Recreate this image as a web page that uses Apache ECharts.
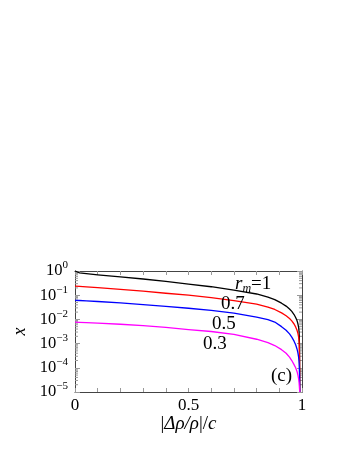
<!DOCTYPE html>
<html><head><meta charset="utf-8">
<script src="https://cdn.jsdelivr.net/npm/echarts@6/dist/echarts.min.js"></script>
<style>html,body{margin:0;padding:0;background:#fff}#c{width:349px;height:451px}</style>
</head><body><div id="c"></div>
<script>
// x positions (|Δρ/ρ|/c)
const xs = [0,0.02,0.05,0.1,0.2,0.3,0.4,0.5,0.6,0.7,
            0.8,0.85,0.88,0.91,0.93,0.945,0.955,0.965,0.972,0.978,0.982,0.985,0.987,0.988,0.989,0.9895,0.99];
// log10(x) values
const black   = [0,-0.08,-0.11,-0.16,-0.24,-0.33,-0.43,-0.54,-0.65,-0.79,
                 -0.95,-1.08,-1.18,-1.33,-1.45,-1.57,-1.67,-1.8,-1.92,-2.05,-2.18,-2.32,-2.5,-2.7,-3.2,-3.8,-5];
const red     = [-0.625,-0.635,-0.655,-0.69,-0.76,-0.83,-0.92,-1.0,-1.1,-1.22,
                 -1.37,-1.49,-1.59,-1.73,-1.85,-1.96,-2.06,-2.19,-2.31,-2.45,-2.58,-2.72,-2.9,-3.1,-3.5,-4.0,-5];
const blue    = [-1.21,-1.22,-1.235,-1.26,-1.32,-1.39,-1.46,-1.54,-1.63,-1.74,
                 -1.91,-2.01,-2.11,-2.3,-2.45,-2.6,-2.73,-2.9,-3.05,-3.22,-3.38,-3.55,-3.75,-3.95,-4.3,-4.6,-5];
const magenta = [-2.11,-2.12,-2.13,-2.15,-2.2,-2.26,-2.33,-2.42,-2.5,-2.62,
                 -2.82,-2.96,-3.08,-3.25,-3.4,-3.56,-3.7,-3.87,-4.0,-4.15,-4.3,-4.45,-4.6,-4.72,-4.85,-4.93,-5];
const xTickLabels = ['0','0.5','1'];
const decades = [-5,-4,-3,-2,-1];
const minorTicks = [];
decades.forEach(d => { for (let k = 2; k <= 9; k++) minorTicks.push(k * Math.pow(10, d)); });

const FONT = 'Liberation Serif';
const toPairs = arr => xs.map((x, i) => [x, Math.pow(10, arr[i])]);
const lineSeries = (data, color) => ({
  type: 'line', data: toPairs(data), showSymbol: false, symbol: 'none',
  lineStyle: { color: color, width: 1.3, join: 'round' }, itemStyle: { color: color }, silent: true, z: 3
});

const chart = echarts.init(document.getElementById('c'), null, { renderer: 'canvas' });
const tickStyle = { lineStyle: { color: '#999', width: 1 } };
chart.setOption({
  animation: false,
  grid: { left: 75, right: 47, top: 271, bottom: 59 },
  xAxis: [{
    type: 'value', min: 0, max: 1, interval: 0.1, position: 'bottom',
    axisLine: { show: true, onZero: false, lineStyle: { color: '#444', width: 1 } },
    axisTick: Object.assign({ inside: true, length: 4 }, tickStyle),
    splitLine: { show: false },
    axisLabel: {
      margin: 5, fontFamily: FONT, fontSize: 17, color: '#000',
      formatter: v => { const s = String(Math.round(v * 10) / 10); return xTickLabels.indexOf(s) >= 0 ? s : ''; }
    },
    name: '{n||}{i|Δρ/ρ}{n||/}{i|c}', nameLocation: 'middle', nameGap: 14,
    nameTextStyle: { fontFamily: FONT, fontSize: 19, color: '#000', verticalAlign: 'top',
      rich: { n: { fontFamily: FONT, fontSize: 19, color: '#000' }, i: { fontFamily: FONT, fontSize: 19, fontStyle: 'italic', color: '#000' } } }
  }, {
    type: 'value', min: 0, max: 1, interval: 0.1, position: 'top',
    axisLine: { show: true, onZero: false, lineStyle: { color: '#444', width: 1 } },
    axisTick: Object.assign({ inside: true, length: 4 }, tickStyle),
    axisLabel: { show: false }, splitLine: { show: false }
  }],
  yAxis: [{
    type: 'log', logBase: 10, min: 1e-5, max: 1, interval: 1, position: 'left',
    axisLine: { show: true, onZero: false, lineStyle: { color: '#444', width: 1 } },
    axisTick: Object.assign({ inside: true, length: 5 }, tickStyle),
    splitLine: { show: false },
    axisLabel: {
      margin: 7, color: '#000',
      formatter: v => { const e = Math.round(Math.log10(v)); return '{b|10}{s|' + (e === 0 ? '0' : '\u2212' + (-e)) + '}'; },
      rich: {
        b: { fontFamily: FONT, fontSize: 16.5, color: '#000', lineHeight: 16 },
        s: { fontFamily: FONT, fontSize: 11, color: '#000', lineHeight: 11, padding: [0, 0, 11, 0] }
      }
    },
    name: 'x', nameLocation: 'middle', nameGap: 34, nameRotate: 90,
    nameTextStyle: { fontFamily: FONT, fontSize: 18, fontStyle: 'italic', color: '#000' }
  }, {
    type: 'log', logBase: 10, min: 1e-5, max: 1, interval: 1, position: 'right',
    axisLine: { show: true, onZero: false, lineStyle: { color: '#444', width: 1 } },
    axisTick: Object.assign({ inside: true, length: 5 }, tickStyle),
    axisLabel: { show: false }, splitLine: { show: false }
  }],
  series: [
    {
      type: 'custom', coordinateSystem: 'cartesian2d', silent: true, z: 1,
      data: minorTicks.map(v => [0, v]),
      renderItem: (params, api) => {
        const v = api.value(1);
        const pl = api.coord([0, v]);
        const pr = api.coord([1, v]);
        return { type: 'group', children: [
          { type: 'line', shape: { x1: pl[0], y1: pl[1], x2: pl[0] + 3, y2: pl[1] }, style: { stroke: '#999', lineWidth: 1 } },
          { type: 'line', shape: { x1: pr[0], y1: pr[1], x2: pr[0] - 3, y2: pr[1] }, style: { stroke: '#999', lineWidth: 1 } }
        ] };
      }
    },
    lineSeries(black, '#000000'),
    lineSeries(red, '#ff0000'),
    lineSeries(blue, '#0000ff'),
    lineSeries(magenta, '#ff00ff')
  ],
  graphic: [
    { type: 'text', x: 235, y: 284, z: 10, style: { text: '{i|r}{m|m}{n|=1}', verticalAlign: 'middle',
      rich: { i: { fontFamily: FONT, fontSize: 19, fontStyle: 'italic', fill: '#000' },
              m: { fontFamily: FONT, fontSize: 12, fontStyle: 'italic', fill: '#000', padding: [9, 0, 0, 0] },
              n: { fontFamily: FONT, fontSize: 19, fill: '#000' } } } },
    { type: 'text', x: 221, y: 304, z: 10, style: { text: '0.7', font: '19px "Liberation Serif"', fill: '#000', verticalAlign: 'middle' } },
    { type: 'text', x: 212, y: 324, z: 10, style: { text: '0.5', font: '19px "Liberation Serif"', fill: '#000', verticalAlign: 'middle' } },
    { type: 'text', x: 203, y: 344, z: 10, style: { text: '0.3', font: '19px "Liberation Serif"', fill: '#000', verticalAlign: 'middle' } },
    { type: 'text', x: 271, y: 376, z: 10, style: { text: '(c)', font: '19px "Liberation Serif"', fill: '#000', verticalAlign: 'middle' } }
  ]
});
</script>
</body></html>
